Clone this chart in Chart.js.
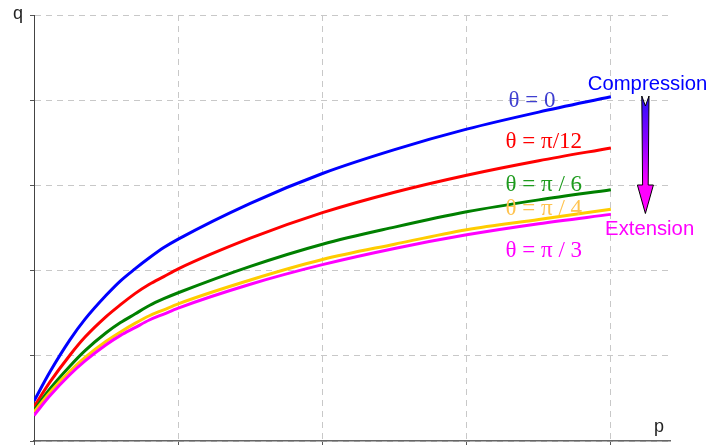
<!DOCTYPE html>
<html>
<head>
<meta charset="utf-8">
<script src="https://cdn.jsdelivr.net/npm/chart.js@4"></script>
<style>
html,body{margin:0;padding:0;background:#fff;}
#wrap{width:709px;height:446px;position:relative;}
</style>
</head>
<body>
<div id="wrap"><canvas id="c" width="709" height="446"></canvas></div>
<script>
// p values (x) at which the curves were read
const pValues = [0, 0.11, 0.25, 0.354, 0.5, 0.6, 0.7, 0.8, 0.9, 1, 1.5, 2, 2.5, 3, 3.5, 4];
// q values for each theta
const qTheta0    = [0.47, 0.81, 1.19, 1.43, 1.71, 1.88, 2.02, 2.15, 2.27, 2.37, 2.79, 3.14, 3.42, 3.66, 3.86, 4.04];
const qThetaPi12 = [0.40, 0.69, 1.01, 1.22, 1.46, 1.60, 1.73, 1.84, 1.93, 2.02, 2.38, 2.68, 2.92, 3.12, 3.29, 3.44];
const qThetaPi6  = [0.36, 0.61, 0.88, 1.06, 1.27, 1.39, 1.49, 1.59, 1.67, 1.74, 2.05, 2.31, 2.51, 2.69, 2.83, 2.95];
const qThetaPi4  = [0.34, 0.57, 0.82, 0.98, 1.17, 1.28, 1.38, 1.47, 1.54, 1.61, 1.89, 2.13, 2.31, 2.48, 2.60, 2.72];
const qThetaPi3  = [0.30, 0.53, 0.78, 0.94, 1.13, 1.24, 1.33, 1.42, 1.49, 1.56, 1.84, 2.07, 2.26, 2.42, 2.55, 2.66];

const seriesNames = ['θ = 0', 'θ = π/12', 'θ = π / 6', 'θ = π / 4', 'θ = π / 3'];
const seriesData = [qTheta0, qThetaPi12, qThetaPi6, qThetaPi4, qThetaPi3];
const lineColors = ['#0000ff', '#ff0000', '#008000', '#ffcc00', '#ff00ff'];
const labelColors = ['#3f3fd0', '#ff0000', '#1e9b1e', '#ffc34f', '#ff00ff'];
// label anchor positions in data coordinates (p, q)
const labelP = [3.29, 3.27, 3.27, 3.27, 3.27];
const labelQ = [3.92, 3.44, 2.94, 2.65, 2.16];

const datasets = seriesData.map((arr, i) => ({
  label: seriesNames[i],
  data: arr.map((q, k) => ({x: pValues[k], y: q})),
  borderColor: lineColors[i],
  backgroundColor: lineColors[i],
  borderWidth: 3,
  pointRadius: 0,
  fill: false,
  cubicInterpolationMode: 'monotone'
})).reverse();

const overlay = {
  id: 'overlay',
  afterDraw(chart) {
    const ctx = chart.ctx;
    const xs = chart.scales.x, ys = chart.scales.y;
    ctx.save();
    // theta labels
    ctx.textAlign = 'left';
    ctx.textBaseline = 'alphabetic';
    ctx.font = '23px "Liberation Serif", "Times New Roman", serif';
    seriesNames.forEach((t, i) => {
      ctx.fillStyle = labelColors[i];
      ctx.fillText(t, xs.getPixelForValue(labelP[i]), ys.getPixelForValue(labelQ[i]));
    });
    // Compression / Extension
    ctx.font = '20.3px "Liberation Sans", Arial, sans-serif';
    ctx.fillStyle = '#0000ff';
    ctx.fillText('Compression', xs.getPixelForValue(3.84), ys.getPixelForValue(4.12));
    ctx.fillStyle = '#ff00ff';
    ctx.fillText('Extension', xs.getPixelForValue(3.96), ys.getPixelForValue(2.42));
    // axis letters
    ctx.fillStyle = '#222';
    ctx.font = '18px "Liberation Sans", Arial, sans-serif';
    ctx.fillText('q', 13, 19);
    ctx.fillText('p', 654, 432);
    // arrow
    const cx = 645.4;
    const top = 96, notch = 106, headY = 185, tip = 213.5;
    const sw = 2.8, hw = 8;
    const g = ctx.createLinearGradient(0, top, 0, headY);
    g.addColorStop(0, '#2a10ff');
    g.addColorStop(0.5, '#8a00ff');
    g.addColorStop(1, '#ff00ff');
    ctx.beginPath();
    ctx.moveTo(cx - sw - 0.8, top);
    ctx.lineTo(cx, notch);
    ctx.lineTo(cx + sw + 0.8, top);
    ctx.lineTo(cx + sw, headY);
    ctx.lineTo(cx + hw, headY);
    ctx.lineTo(cx, tip);
    ctx.lineTo(cx - hw, headY);
    ctx.lineTo(cx - sw, headY);
    ctx.closePath();
    ctx.fillStyle = g;
    ctx.fill();
    ctx.lineWidth = 1;
    ctx.strokeStyle = '#000';
    ctx.stroke();
    ctx.restore();
  }
};

new Chart(document.getElementById('c'), {
  type: 'line',
  data: { datasets },
  options: {
    responsive: false,
    devicePixelRatio: 1,
    animation: false,
    layout: { padding: { left: 30, top: 15, right: 39, bottom: 1 } },
    plugins: { legend: { display: false }, tooltip: { enabled: false } },
    scales: {
      x: {
        type: 'linear',
        min: 0, max: 4.41,
        afterBuildTicks: s => { s.ticks = s.ticks.filter(t => t.value <= 4.001); },
        ticks: { display: false, stepSize: 1 },
        grid: { color: '#c8c8c8', lineWidth: 1, drawTicks: true, tickLength: 4, tickColor: '#555', tickBorderDash: [] },
        border: { display: true, color: '#666', width: 1.5, dash: [6, 5] }
      },
      y: {
        type: 'linear',
        min: 0, max: 5,
        ticks: { display: false, stepSize: 1 },
        grid: { color: '#c8c8c8', lineWidth: 1, drawTicks: true, tickLength: 4, tickColor: '#555', tickBorderDash: [] },
        border: { display: true, color: '#444', width: 1, dash: [6, 5] }
      }
    }
  },
  plugins: [overlay]
});
</script>
</body>
</html>
